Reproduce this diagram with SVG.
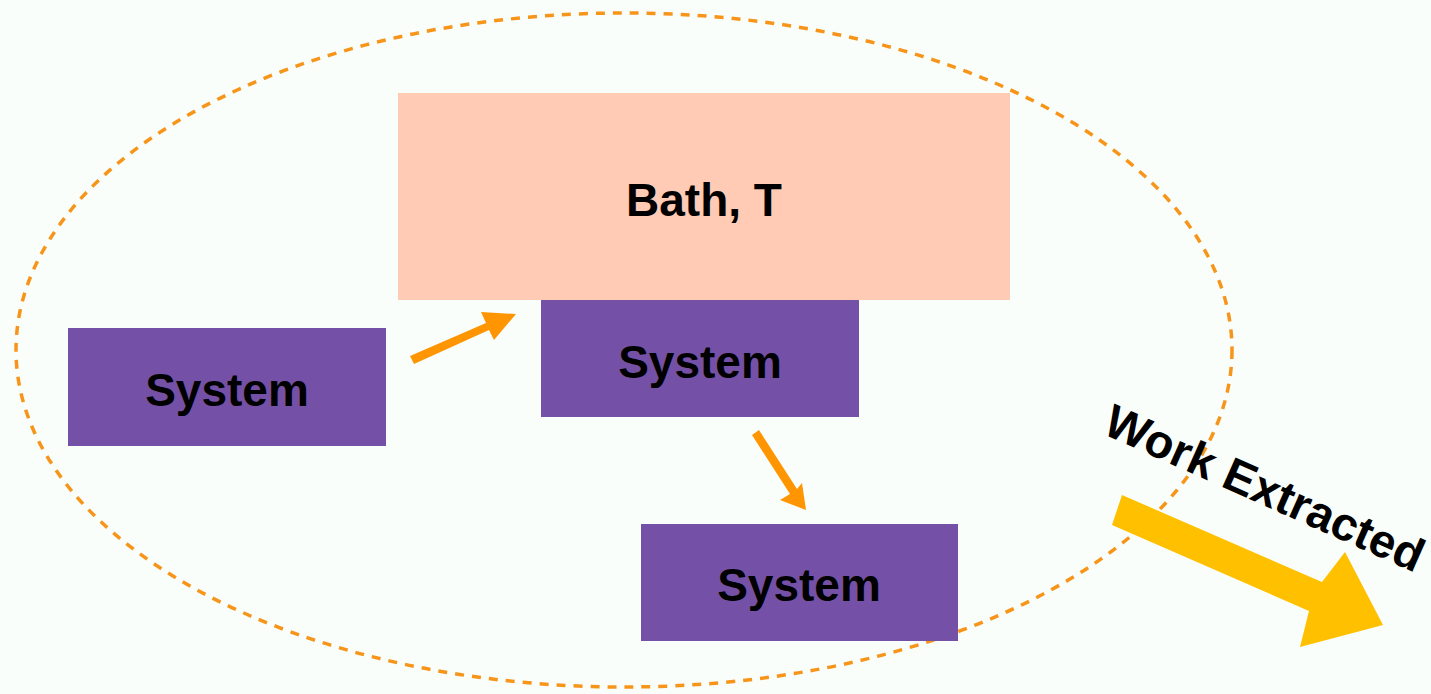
<svg xmlns="http://www.w3.org/2000/svg" width="1431" height="694" viewBox="0 0 1431 694">
<style>
.sys{fill:#7451A7}
.lbl{font-family:"Liberation Sans",Arial,sans-serif;font-weight:bold;font-size:46px;fill:#000;text-anchor:middle}
.arr{fill:#FF9500}
</style>
<rect width="1431" height="694" fill="#FAFEFA"/>
<ellipse cx="624" cy="350" rx="608" ry="337" fill="none" stroke="#F7951A" stroke-width="3.5" stroke-dasharray="9 8"/>
<g id="bath">
<rect x="398" y="93" width="612" height="207" fill="#FFCBB5"/>
<text class="lbl" x="704" y="216">Bath, T</text>
</g>
<g id="system1">
<rect class="sys" x="68" y="328" width="318" height="118"/>
<text class="lbl" x="227" y="406">System</text>
</g>
<g id="system2">
<rect class="sys" x="541" y="300" width="318" height="117"/>
<text class="lbl" x="700" y="378">System</text>
</g>
<g id="system3">
<rect class="sys" x="641" y="524" width="317" height="117"/>
<text class="lbl" x="799" y="601">System</text>
</g>
<g id="connectors">
<polygon class="arr" points="410,356 486,323 481,312 516,314 494,340 489,330 414,364"/>
<polygon class="arr" points="752,435 790,494 780,500 806,510 802,483 797,489 759,430"/>
</g>
<g id="work">
<polygon fill="#FFC000" points="1122,495 1322,582 1345,552 1383,625 1300,647 1309,611 1112,525"/>
<text x="1101" y="433" transform="rotate(24 1101 433)" style="font-family:'Liberation Sans',Arial,sans-serif;font-weight:bold;font-size:47px;fill:#000">Work Extracted</text>
</g>
</svg>
